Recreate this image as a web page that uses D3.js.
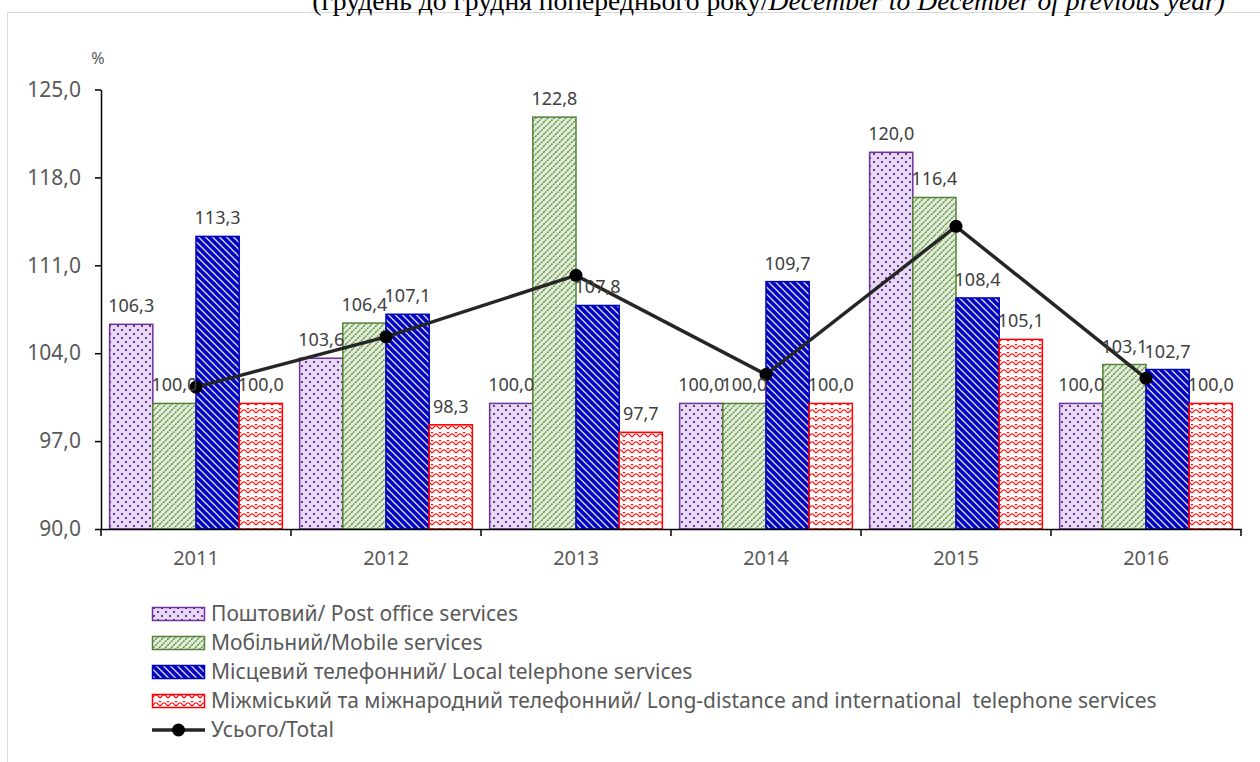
<!DOCTYPE html>
<html>
<head>
<meta charset="utf-8">
<script src="https://cdn.jsdelivr.net/npm/d3@7"></script>
<style>
  body { margin: 0; background: #fff; }
  svg { display: block; font-family: "Noto Sans", sans-serif; }
</style>
</head>
<body>
<svg id="svg" width="1260" height="762"></svg>
<script>
let years = ["2011", "2012", "2013", "2014", "2015", "2016"];
let post = [106.3, 103.6, 100.0, 100.0, 120.0, 100.0];
let mobile = [100.0, 106.4, 122.8, 100.0, 116.4, 103.1];
let local = [113.3, 107.1, 107.8, 109.7, 108.4, 102.7];
let longDistance = [100.0, 98.3, 97.7, 100.0, 105.1, 100.0];
let total = [101.3, 105.3, 110.2, 102.3, 114.1, 102.0];
let yTicks = [90, 97, 104, 111, 118, 125];

let seriesNames = [
  "Поштовий/ Post office services",
  "Мобільний/Mobile services",
  "Місцевий телефонний/ Local telephone services",
  "Міжміський та міжнародний телефонний/ Long-distance and international  telephone services"
];
let totalName = "Усього/Total";

let series = [
  {key: "post", values: post, pattern: "url(#pPost)", stroke: "#7030a0"},
  {key: "mobile", values: mobile, pattern: "url(#pMobile)", stroke: "#548235"},
  {key: "local", values: local, pattern: "url(#pLocal)", stroke: "#0000c0"},
  {key: "long", values: longDistance, pattern: "url(#pLong)", stroke: "#ff0000"}
];

let svg = d3.select("#svg");
let fmt = d3.formatLocale({decimal: ",", thousands: " ", grouping: [3], currency: ["", ""]}).format(".1f");

// patterns
let defs = svg.append("defs");

let pPost = defs.append("pattern").attr("id", "pPost")
    .attr("patternUnits", "userSpaceOnUse").attr("width", 8).attr("height", 8);
pPost.append("rect").attr("width", 8).attr("height", 8).attr("fill", "#e6daf2");
pPost.append("rect").attr("x", 1).attr("y", 1).attr("width", 2).attr("height", 2).attr("fill", "#7030a0");
pPost.append("rect").attr("x", 5).attr("y", 5).attr("width", 2).attr("height", 2).attr("fill", "#7030a0");

let pMobile = defs.append("pattern").attr("id", "pMobile")
    .attr("patternUnits", "userSpaceOnUse").attr("width", 6).attr("height", 6);
pMobile.append("rect").attr("width", 6).attr("height", 6).attr("fill", "#e2efda");
pMobile.append("path").attr("d", "M-1,7 L7,-1 M-1,1 L1,-1 M5,7 L7,5")
    .attr("stroke", "#548235").attr("stroke-width", 1.4).attr("stroke-dasharray", "2,1");

let pLocal = defs.append("pattern").attr("id", "pLocal")
    .attr("patternUnits", "userSpaceOnUse").attr("width", 7).attr("height", 7);
pLocal.append("rect").attr("width", 7).attr("height", 7).attr("fill", "#c9c9f2");
pLocal.append("path").attr("d", "M-1,-1 L8,8 M-1,6 L1,8 M6,-1 L8,1")
    .attr("stroke", "#0000c0").attr("stroke-width", 3.4);

let pLong = defs.append("pattern").attr("id", "pLong")
    .attr("patternUnits", "userSpaceOnUse").attr("width", 8).attr("height", 8);
pLong.append("rect").attr("width", 8).attr("height", 8).attr("fill", "#ffffff");
pLong.append("path").attr("d", "M0,5 L3,2 L5,2 L8,5 M0,1 L1,0 M7,0 L8,1")
    .attr("stroke", "#ff0000").attr("stroke-width", 1.1).attr("fill", "none");

// frame
svg.append("rect")
    .attr("x", 7.5).attr("y", 12.5).attr("width", 1400).attr("height", 900)
    .attr("fill", "none").attr("stroke", "#d9d9d9").attr("stroke-width", 1);

// title (cut off at the top, as in the source)
let title = svg.append("text")
    .attr("x", 1225).attr("y", 10)
    .attr("text-anchor", "end")
    .style("font-family", "'Liberation Serif', 'Times New Roman', serif")
    .style("font-size", "27.6px")
    .attr("fill", "#000");
title.append("tspan").text("(грудень до грудня попереднього року/");
title.append("tspan").style("font-style", "italic").text("December to December of previous year)");

// scales
let x0 = d3.scaleBand().domain(years).range([101, 1241]).padding(0);
let x1 = d3.scaleBand().domain(series.map(s => s.key)).range([0, x0.bandwidth()])
    .paddingInner(0).paddingOuter(0.2);
let y = d3.scaleLinear().domain([90, 125]).range([529, 89.5]);

// y axis
let yAxis = svg.append("g")
    .attr("transform", "translate(101,0)")
    .call(d3.axisLeft(y).tickValues(yTicks).tickSize(6).tickSizeOuter(0).tickPadding(14).tickFormat(fmt));
yAxis.select(".domain").attr("stroke", "#000").attr("stroke-width", 1.5);
yAxis.selectAll(".tick line").attr("stroke", "#000").attr("stroke-width", 1.5);
yAxis.selectAll(".tick text")
    .attr("fill", "#595959")
    .style("font-family", "'Noto Sans', sans-serif")
    .style("font-size", "21px");

svg.append("text")
    .attr("x", 98).attr("y", 64)
    .attr("text-anchor", "middle")
    .attr("fill", "#595959")
    .style("font-size", "16px")
    .text("%");

// bars
let groups = svg.append("g").selectAll("g").data(series).enter().append("g");
groups.selectAll("rect")
    .data(s => s.values.map((v, i) => ({key: s.key, year: years[i], v: v, s: s})))
    .enter().append("rect")
    .attr("x", d => x0(d.year) + x1(d.key))
    .attr("y", d => y(d.v))
    .attr("width", x1.bandwidth())
    .attr("height", d => y(90) - y(d.v))
    .attr("fill", d => d.s.pattern)
    .attr("stroke", d => d.s.stroke)
    .attr("stroke-width", 1.5);

// x axis
let xAxis = svg.append("g")
    .attr("transform", "translate(0,529)")
    .call(d3.axisBottom(x0).tickSize(0).tickPadding(22));
xAxis.select(".domain").attr("stroke", "#000").attr("stroke-width", 1.5);
xAxis.selectAll(".tick text")
    .attr("fill", "#595959")
    .style("font-family", "'Noto Sans', sans-serif")
    .style("font-size", "20px");
let bounds = years.map(d => x0(d)).concat([x0.range()[1]]);
xAxis.selectAll("line.sep").data(bounds).enter().append("line")
    .attr("class", "sep")
    .attr("x1", d => d).attr("x2", d => d)
    .attr("y1", 0).attr("y2", 7)
    .attr("stroke", "#000").attr("stroke-width", 1.5);

// total line
let line = d3.line()
    .x((d, i) => x0(years[i]) + x0.bandwidth() / 2)
    .y(d => y(d));
svg.append("path")
    .datum(total)
    .attr("d", line)
    .attr("fill", "none")
    .attr("stroke", "#262626")
    .attr("stroke-width", 3.5);
svg.append("g").selectAll("circle").data(total).enter().append("circle")
    .attr("cx", (d, i) => x0(years[i]) + x0.bandwidth() / 2)
    .attr("cy", d => y(d))
    .attr("r", 6.5)
    .attr("fill", "#000");

// value labels
series.forEach(s => {
  svg.append("g").selectAll("text").data(s.values).enter().append("text")
      .attr("x", (d, i) => x0(years[i]) + x1(s.key) + x1.bandwidth() / 2)
      .attr("y", d => y(d) - 12)
      .attr("text-anchor", "middle")
      .attr("fill", "#404040")
      .style("font-size", "18px")
      .text(d => fmt(d));
});

// legend
let legendNames = seriesNames.concat([totalName]);
let legend = svg.append("g").selectAll("g").data(legendNames).enter().append("g")
    .attr("transform", (d, i) => "translate(152," + (614 + i * 29) + ")");
legend.each(function(d, i) {
  let g = d3.select(this);
  if (i < series.length) {
    g.append("rect")
        .attr("x", 0.5).attr("y", -6.5)
        .attr("width", 52).attr("height", 13)
        .attr("fill", series[i].pattern)
        .attr("stroke", series[i].stroke)
        .attr("stroke-width", 1.5);
  } else {
    g.append("line").attr("x1", 0).attr("x2", 53).attr("y1", 0).attr("y2", 0)
        .attr("stroke", "#262626").attr("stroke-width", 3.5);
    g.append("circle").attr("cx", 26.5).attr("cy", 0).attr("r", 6.5).attr("fill", "#000");
  }
  g.append("text")
      .attr("x", 59).attr("y", 0)
      .attr("dy", "0.35em")
      .attr("fill", "#595959")
      .style("font-size", "21px")
      .style("white-space", "pre")
      .text(d);
});
</script>
</body>
</html>
